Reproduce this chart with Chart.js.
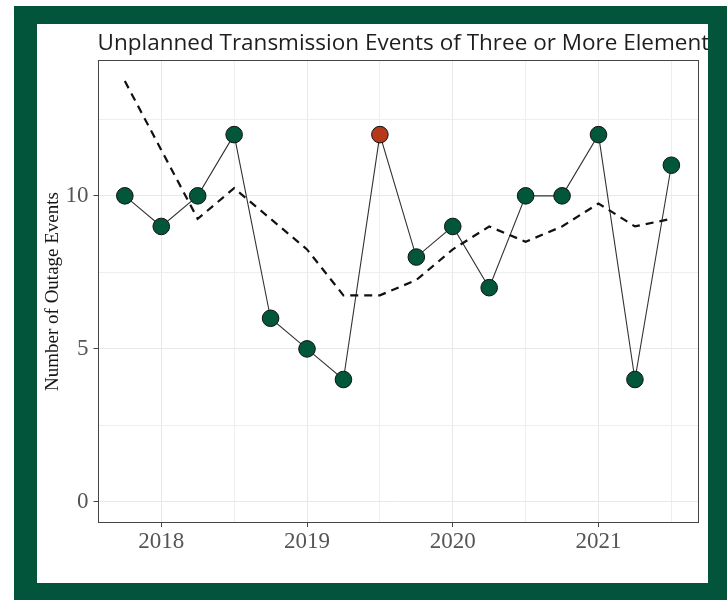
<!DOCTYPE html>
<html>
<head>
<meta charset="utf-8">
<script src="https://cdn.jsdelivr.net/npm/chart.js@4/dist/chart.umd.min.js"></script>
<style>
html, body { margin: 0; padding: 0; background: #ffffff; }
#frame { position: absolute; left: 14px; top: 6px; width: 713px; height: 594px; background: #02553a; }
#panel { position: absolute; left: 23px; top: 18px; width: 671px; height: 559px; background: #ffffff; }
canvas { display: block; }
</style>
</head>
<body>
<div id="frame"><div id="panel"><canvas id="c" width="671" height="559"></canvas></div></div>
<script>
// ---- data ----
const chartTitle = 'Unplanned Transmission Events of Three or More Element';
const yAxisTitle = 'Number of Outage Events';
const quarters = ['2017-Q4',
  '2018-Q1', '2018-Q2', '2018-Q3', '2018-Q4',
  '2019-Q1', '2019-Q2', '2019-Q3', '2019-Q4',
  '2020-Q1', '2020-Q2', '2020-Q3', '2020-Q4',
  '2021-Q1', '2021-Q2', '2021-Q3'];
const outageEvents = [10, 9, 10, 12, 6, 5, 4, 12, 8, 9, 7, 10, 10, 12, 4, 11];
const rollingAverage = [13.75, 11.5, 9.25, 10.25, 9.25, 8.25, 6.75, 6.75, 7.25, 8.25, 9, 8.5, 9, 9.75, 9, 9.25];
const highlightQuarter = '2019-Q3';
const xTickLabels = [2018, 2019, 2020, 2021];
const yTickLabels = [0, 5, 10];

// ---- derived ----
const quarterToYear = q => { const [y, k] = q.split('-Q'); return Number(y) + (Number(k) - 1) / 4; };
const xs = quarters.map(quarterToYear);
const eventPoints = xs.map((x, i) => ({ x: x, y: outageEvents[i] }));
const avgPoints = xs.map((x, i) => ({ x: x, y: rollingAverage[i] }));

const GREEN = '#02573b';
const RED = '#b5381a';
const pointColors = quarters.map(q => q === highlightQuarter ? RED : GREEN);

const xMinData = Math.min(...xs), xMaxData = Math.max(...xs);
const xPad = (xMaxData - xMinData) * 0.05;
const yAll = outageEvents.concat(rollingAverage, [0]);
const yMinData = Math.min(...yAll), yMaxData = Math.max(...yAll);
const yPad = (yMaxData - yMinData) * 0.05;

const panelBorder = {
  id: 'panelBorder',
  afterDraw(chart) {
    const { left, top, right, bottom } = chart.chartArea;
    const ctx = chart.ctx;
    ctx.save();
    ctx.strokeStyle = '#444444';
    ctx.lineWidth = 1;
    ctx.strokeRect(Math.round(left) + 0.5, Math.round(top) + 0.5,
      Math.round(right) - Math.round(left) - 1, Math.round(bottom) - Math.round(top) - 1);
    ctx.restore();
  }
};

const leftTitle = {
  id: 'leftTitle',
  afterDraw(chart) {
    const ctx = chart.ctx;
    ctx.save();
    ctx.font = '22.5px "Open Sans"';
    ctx.fillStyle = '#1e1e1e';
    ctx.textAlign = 'left';
    ctx.textBaseline = 'alphabetic';
    ctx.fillText(chartTitle, chart.chartArea.left, 26);
    ctx.restore();
  }
};

const isMajorX = v => xTickLabels.includes(v);
const isMajorY = v => yTickLabels.includes(v);

new Chart(document.getElementById('c'), {
  type: 'line',
  data: {
    datasets: [
      {
        label: 'Rolling average',
        data: avgPoints,
        borderColor: '#111111',
        borderWidth: 2.2,
        borderDash: [8, 6],
        pointRadius: 0,
        fill: false,
        tension: 0,
        order: 0
      },
      {
        label: 'Outage events',
        data: eventPoints,
        borderColor: '#333333',
        borderWidth: 1.1,
        pointRadius: 8.3,
        pointHoverRadius: 8.3,
        pointBackgroundColor: pointColors,
        pointBorderColor: '#111111',
        pointBorderWidth: 1,
        fill: false,
        tension: 0,
        order: 1
      }
    ]
  },
  options: {
    responsive: false,
    devicePixelRatio: 1,
    animation: false,
    layout: { padding: { top: 36, right: 9, left: 0, bottom: 0 } },
    plugins: {
      legend: { display: false },
      tooltip: { enabled: false },
      title: { display: false }
    },
    scales: {
      x: {
        type: 'linear',
        min: xMinData - xPad,
        max: xMaxData + xPad,
        border: { display: false },
        grid: {
          color: c => isMajorX(c.tick.value) ? '#e8e8e8' : '#eeeeee',
          lineWidth: 1,
          drawTicks: true,
          tickLength: 4,
          tickWidth: 1,
          tickColor: c => isMajorX(c.tick.value) ? '#444444' : 'rgba(0,0,0,0)'
        },
        ticks: {
          stepSize: 0.5,
          includeBounds: false,
          autoSkip: false,
          maxRotation: 0,
          padding: 1,
          color: '#555555',
          font: { family: '"Liberation Serif"', size: 23 },
          callback: v => isMajorX(v) ? String(v) : ''
        },
        afterFit: s => { s.height = 60; }
      },
      y: {
        type: 'linear',
        min: yMinData - yPad,
        max: yMaxData + yPad,
        border: { display: false },
        grid: {
          color: c => isMajorY(c.tick.value) ? '#e8e8e8' : '#eeeeee',
          lineWidth: 1,
          drawTicks: true,
          tickLength: 4,
          tickWidth: 1,
          tickColor: c => isMajorY(c.tick.value) ? '#444444' : 'rgba(0,0,0,0)'
        },
        ticks: {
          stepSize: 2.5,
          includeBounds: false,
          autoSkip: false,
          padding: 5,
          color: '#555555',
          font: { family: '"Liberation Serif"', size: 23 },
          callback: v => isMajorY(v) ? String(v) : ''
        },
        title: {
          display: true,
          text: yAxisTitle,
          color: '#151515',
          font: { family: '"Liberation Serif"', size: 19 },
          padding: { top: 5, bottom: 0 }
        },
        afterFit: s => { s.width = 60.5; }
      }
    }
  },
  plugins: [panelBorder, leftTitle]
});
</script>
</body>
</html>
